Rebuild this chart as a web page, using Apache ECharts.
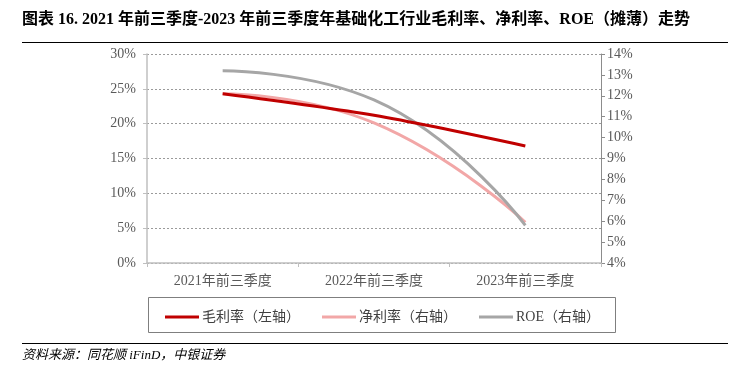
<!DOCTYPE html>
<html><head><meta charset="utf-8">
<script src="https://cdn.jsdelivr.net/npm/echarts@6/dist/echarts.min.js"></script>
<style>html,body{margin:0;padding:0;background:#fff}#c{width:735px;height:370px}</style>
</head><body><div id="c"></div>
<script>
const categories = ['2021年前三季度', '2022年前三季度', '2023年前三季度'];
const grossMargin = [24.3, 21.2, 16.8];   // left axis, %
const netMargin = [12.1, 10.7, 5.95];     // right axis, %
const roe = [13.2, 11.8, 5.8];            // right axis, %
const leftTicks = { min: 0, max: 30, interval: 5 };
const rightTicks = { min: 4, max: 14, interval: 1 };

const serif = '"Times New Roman","Liberation Serif","Noto Sans CJK SC",serif';
const chart = echarts.init(document.getElementById('c'), null, { renderer: 'canvas' });
chart.setOption({
  backgroundColor: '#fff',
  animation: false,
  graphic: [
    { type: 'text', left: 22, top: 12, style: { text: '图表 16. 2021 年前三季度-2023 年前三季度年基础化工行业毛利率、净利率、ROE（摊薄）走势', font: 'bold 16px ' + serif, fill: '#000' } },
    { type: 'line', shape: { x1: 22, y1: 42.5, x2: 728, y2: 42.5 }, style: { stroke: '#000', lineWidth: 1 } },
    { type: 'rect', shape: { x: 148.5, y: 297.5, width: 467, height: 35 }, style: { fill: 'none', stroke: '#7f7f7f', lineWidth: 1 } },
    { type: 'line', shape: { x1: 22, y1: 343.5, x2: 728, y2: 343.5 }, style: { stroke: '#000', lineWidth: 1 } },
    { type: 'text', left: 22, top: 349, style: { text: '资料来源：同花顺 iFinD，中银证券', font: 'italic 13px ' + serif, fill: '#000' } }
  ],
  legend: {
    left: 165, top: 310, padding: 0, itemGap: 22, itemWidth: 34, itemHeight: 3, icon: 'rect',
    textStyle: { fontFamily: serif, fontSize: 14, color: '#404040', padding: [0, 0, 0, -2] },
    data: ['毛利率（左轴）', '净利率（右轴）', 'ROE（右轴）']
  },
  grid: { left: 147, right: 134, top: 54, bottom: 107 },
  xAxis: {
    type: 'category', data: categories, boundaryGap: true,
    axisLine: { lineStyle: { color: '#bfbfbf', width: 1.5 } },
    axisTick: { show: true, length: 4, lineStyle: { color: '#bfbfbf' } },
    axisLabel: { fontFamily: serif, fontSize: 14, color: '#595959', margin: 11 }
  },
  yAxis: [
    {
      type: 'value', position: 'left', min: leftTicks.min, max: leftTicks.max, interval: leftTicks.interval,
      axisLine: { show: true, lineStyle: { color: '#bfbfbf', width: 1.5 } },
      axisTick: { show: true, length: 4, lineStyle: { color: '#bfbfbf' } },
      axisLabel: { formatter: '{value}%', fontFamily: serif, fontSize: 14, color: '#595959', margin: 11 },
      splitLine: { show: true, lineStyle: { color: '#9a9a9a', type: [2, 2], width: 1 } }
    },
    {
      type: 'value', position: 'right', min: rightTicks.min, max: rightTicks.max, interval: rightTicks.interval,
      axisLine: { show: true, lineStyle: { color: '#8c8c8c', width: 1 } },
      axisTick: { show: true, length: 4, lineStyle: { color: '#8c8c8c' } },
      axisLabel: { formatter: '{value}%', fontFamily: serif, fontSize: 14, color: '#595959', margin: 6 },
      splitLine: { show: false }
    }
  ],
  series: [
    { name: '毛利率（左轴）', type: 'line', yAxisIndex: 0, data: grossMargin, smooth: 0.3, symbol: 'none', z: 3,
      lineStyle: { color: '#C00000', width: 3 }, itemStyle: { color: '#C00000' } },
    { name: '净利率（右轴）', type: 'line', yAxisIndex: 1, data: netMargin, smooth: 0.5, symbol: 'none', z: 2,
      lineStyle: { color: '#F2A7A7', width: 3 }, itemStyle: { color: '#F2A7A7' } },
    { name: 'ROE（右轴）', type: 'line', yAxisIndex: 1, data: roe, smooth: 0.5, symbol: 'none', z: 2,
      lineStyle: { color: '#A6A6A6', width: 3 }, itemStyle: { color: '#A6A6A6' } }
  ]
});
</script></body></html>
